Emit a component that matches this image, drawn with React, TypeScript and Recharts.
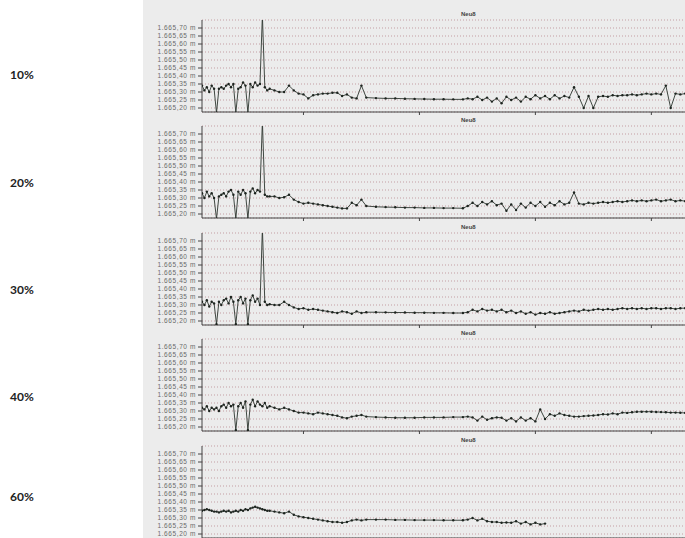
import { CartesianGrid, Line, LineChart, XAxis, YAxis } from "recharts";

// hours since start of record
const times = [
  0, 0.5, 1, 1.5, 2, 2.5, 3, 3.5, 4, 4.5, 5, 5.5, 6, 6.5, 7, 7.5, 8, 8.5, 9, 9.5, 10, 10.5, 11, 11.5, 12, 12.5, 13, 13.5, 14,
  15, 16, 17, 18, 19, 20, 21, 22, 23, 24, 25, 26, 27, 28, 29, 30, 31, 32, 33, 34, 36, 38, 40, 42, 44, 46, 48, 50, 52, 54, 55,
  56, 57, 58, 59, 60, 61, 62, 63, 64, 65, 66, 67, 68, 69, 70, 71, 72, 73, 74, 75, 76, 77, 78, 79, 80,
  81, 82, 83, 84, 85, 86, 87, 88, 89, 90, 91, 92, 93, 94, 95, 96, 97, 98, 99, 100,
];

// water level (m) for each fill level
const level10 = [
  1665.34, 1665.31, 1665.33, 1665.3, 1665.34, 1665.32, 1665.17, 1665.32, 1665.33, 1665.32, 1665.34, 1665.35, 1665.33, 1665.35, 1665.17,
  1665.32, 1665.33, 1665.36, 1665.34, 1665.17, 1665.35, 1665.33, 1665.36, 1665.34, 1665.35, 1665.78, 1665.33, 1665.31, 1665.32,
  1665.31, 1665.3, 1665.3, 1665.34, 1665.31, 1665.29, 1665.285, 1665.26, 1665.28, 1665.285, 1665.29, 1665.29, 1665.295, 1665.295, 1665.275,
  1665.285, 1665.265, 1665.26, 1665.34, 1665.265, 1665.262, 1665.26, 1665.26, 1665.258, 1665.257, 1665.256, 1665.255, 1665.255, 1665.254, 1665.254, 1665.26,
  1665.255, 1665.27, 1665.25, 1665.265, 1665.24, 1665.26, 1665.23, 1665.27, 1665.25, 1665.265, 1665.24, 1665.27, 1665.255, 1665.28, 1665.26,
  1665.275, 1665.255, 1665.28, 1665.26, 1665.275, 1665.265, 1665.33, 1665.27, 1665.2, 1665.275, 1665.2, 1665.27, 1665.275, 1665.27, 1665.28,
  1665.275, 1665.28, 1665.28, 1665.285, 1665.28, 1665.285, 1665.29, 1665.285, 1665.29, 1665.285, 1665.34, 1665.2, 1665.29, 1665.285, 1665.29,
];

const level20 = [
  1665.33, 1665.3, 1665.34, 1665.31, 1665.33, 1665.3, 1665.17, 1665.31, 1665.32, 1665.33, 1665.31, 1665.34, 1665.35, 1665.32, 1665.17,
  1665.34, 1665.32, 1665.35, 1665.33, 1665.17, 1665.34, 1665.36, 1665.33, 1665.35, 1665.34, 1665.78, 1665.32, 1665.31, 1665.31,
  1665.31, 1665.3, 1665.305, 1665.32, 1665.29, 1665.275, 1665.265, 1665.27, 1665.265, 1665.26, 1665.255, 1665.25, 1665.245, 1665.24, 1665.235,
  1665.235, 1665.27, 1665.255, 1665.29, 1665.25, 1665.245, 1665.243, 1665.242, 1665.24, 1665.24, 1665.238, 1665.238, 1665.237, 1665.237, 1665.236, 1665.25,
  1665.27, 1665.25, 1665.275, 1665.26, 1665.28, 1665.255, 1665.265, 1665.22, 1665.26, 1665.225, 1665.265, 1665.24, 1665.27, 1665.25, 1665.275,
  1665.245, 1665.27, 1665.255, 1665.28, 1665.26, 1665.27, 1665.335, 1665.265, 1665.26, 1665.27, 1665.265, 1665.27, 1665.275, 1665.27, 1665.275,
  1665.28, 1665.275, 1665.28, 1665.285, 1665.28, 1665.285, 1665.28, 1665.285, 1665.29, 1665.28, 1665.285, 1665.29, 1665.28, 1665.285, 1665.28,
];

const level30 = [
  1665.32, 1665.3, 1665.33, 1665.29, 1665.32, 1665.31, 1665.18, 1665.32, 1665.3, 1665.33, 1665.34, 1665.31, 1665.35, 1665.32, 1665.18,
  1665.33, 1665.35, 1665.31, 1665.34, 1665.18, 1665.33, 1665.36, 1665.32, 1665.34, 1665.3, 1665.78, 1665.32, 1665.3, 1665.305,
  1665.3, 1665.3, 1665.32, 1665.3, 1665.285, 1665.275, 1665.28, 1665.27, 1665.275, 1665.27, 1665.265, 1665.26, 1665.255, 1665.25, 1665.26,
  1665.255, 1665.245, 1665.26, 1665.25, 1665.255, 1665.255, 1665.254, 1665.253, 1665.253, 1665.252, 1665.252, 1665.251, 1665.251, 1665.25, 1665.25, 1665.255,
  1665.27, 1665.26, 1665.275, 1665.265, 1665.27, 1665.26, 1665.27, 1665.255, 1665.265, 1665.25, 1665.26, 1665.245, 1665.255, 1665.24, 1665.25,
  1665.245, 1665.255, 1665.245, 1665.25, 1665.255, 1665.26, 1665.265, 1665.26, 1665.27, 1665.265, 1665.27, 1665.275, 1665.27, 1665.275, 1665.27,
  1665.275, 1665.28, 1665.275, 1665.28, 1665.275, 1665.28, 1665.275, 1665.28, 1665.28, 1665.275, 1665.28, 1665.28, 1665.275, 1665.28, 1665.28,
];

const level40 = [
  1665.32, 1665.31, 1665.33, 1665.3, 1665.32, 1665.31, 1665.32, 1665.3, 1665.33, 1665.34, 1665.32, 1665.35, 1665.33, 1665.34, 1665.18,
  1665.33, 1665.35, 1665.32, 1665.36, 1665.18, 1665.34, 1665.37, 1665.33, 1665.36, 1665.34, 1665.33, 1665.35, 1665.32, 1665.33,
  1665.32, 1665.31, 1665.32, 1665.31, 1665.3, 1665.29, 1665.29, 1665.285, 1665.28, 1665.29, 1665.285, 1665.28, 1665.275, 1665.27, 1665.26,
  1665.255, 1665.265, 1665.27, 1665.275, 1665.265, 1665.262, 1665.26, 1665.258, 1665.258, 1665.258, 1665.26, 1665.26, 1665.26, 1665.262, 1665.262, 1665.265,
  1665.26, 1665.24, 1665.265, 1665.245, 1665.255, 1665.26, 1665.258, 1665.24, 1665.255, 1665.235, 1665.26, 1665.24, 1665.255, 1665.235, 1665.31,
  1665.25, 1665.28, 1665.27, 1665.285, 1665.275, 1665.27, 1665.265, 1665.265, 1665.268, 1665.27, 1665.272, 1665.275, 1665.28, 1665.278, 1665.285,
  1665.28, 1665.29, 1665.288, 1665.292, 1665.295, 1665.295, 1665.296, 1665.295, 1665.294, 1665.293, 1665.292, 1665.29, 1665.29, 1665.289, 1665.288,
];

const level60 = [
  1665.345, 1665.35, 1665.355, 1665.35, 1665.345, 1665.34, 1665.34, 1665.335, 1665.34, 1665.345, 1665.34, 1665.345, 1665.335, 1665.34, 1665.345,
  1665.34, 1665.35, 1665.345, 1665.355, 1665.35, 1665.36, 1665.365, 1665.37, 1665.365, 1665.36, 1665.355, 1665.35, 1665.345, 1665.345,
  1665.34, 1665.335, 1665.33, 1665.34, 1665.32, 1665.31, 1665.305, 1665.3, 1665.295, 1665.29, 1665.285, 1665.28, 1665.275, 1665.275, 1665.27,
  1665.275, 1665.285, 1665.29, 1665.285, 1665.29, 1665.29, 1665.29, 1665.288, 1665.288, 1665.287, 1665.287, 1665.287, 1665.286, 1665.286, 1665.286, 1665.29,
  1665.3, 1665.285, 1665.295, 1665.28, 1665.275, 1665.275, 1665.27, 1665.272, 1665.27, 1665.28, 1665.265, 1665.275, 1665.26, 1665.27, 1665.26,
  1665.265, null, null, null, null, null, null, null, null, null, null, null, null, null, null,
  null, null, null, null, null, null, null, null, null, null, null, null, null, null, null,
];

const fillLabels = ["10%", "20%", "30%", "40%", "60%"];
const panelTitle = "Neu8";
const levelTicks = [1665.2, 1665.25, 1665.3, 1665.35, 1665.4, 1665.45, 1665.5, 1665.55, 1665.6, 1665.65, 1665.7];
const hourTicks = [21, 45, 69, 93];

const allLevels = [level10, level20, level30, level40, level60];

// non-breaking space keeps "m" on the same line as the number
const fmtLevel = (v: number) => `1.665,${String(Math.round((v - 1665) * 100)).padStart(2, "0")}\u00A0m`;

function Panel({ values, top }: { values: (number | null)[]; top: number }) {
  const data = times.map((t, i) => ({ t, v: values[i] }));
  return (
    <div style={{ position: "absolute", left: 140, top, width: 550, height: 108 }}>
      <div
        style={{
          position: "absolute",
          left: 321,
          top: 3,
          fontSize: 6,
          fontWeight: 700,
          color: "#444",
          fontFamily: "'Liberation Sans', Arial, sans-serif",
        }}
      >
        {panelTitle}
      </div>
      <LineChart width={550} height={108} data={data} margin={{ top: 12, right: 0, bottom: 0, left: 0 }}>
        <CartesianGrid vertical={false} stroke="#c49ea3" strokeDasharray="1 2" />
        <XAxis
          dataKey="t"
          type="number"
          domain={[0, 101]}
          ticks={hourTicks}
          tickFormatter={() => ""}
          height={4}
          tickSize={3}
          stroke="#444"
          allowDataOverflow
        />
        <YAxis
          type="number"
          domain={[1665.175, 1665.75]}
          ticks={levelTicks}
          interval={0}
          tickFormatter={fmtLevel}
          width={62}
          tickSize={4}
          stroke="#444"
          tick={{
            fontSize: 6.5,
            fill: "#6a6a6a",
            letterSpacing: 0.6,
            fontFamily: "'Liberation Sans', Arial, sans-serif",
          }}
          allowDataOverflow
        />
        <Line
          dataKey="v"
          stroke="#2d352f"
          strokeWidth={0.9}
          dot={{ r: 1.2, fill: "#1d241f", stroke: "none" }}
          connectNulls={false}
          isAnimationActive={false}
        />
      </LineChart>
    </div>
  );
}

export default function App() {
  const tops = [8, 114, 221, 327, 434];
  const labelTops = [67, 175, 282, 389, 489];
  return (
    <div style={{ position: "relative", width: 685, height: 538, overflow: "hidden", background: "#fff" }}>
      <style>{"body{margin:0}"}</style>
      <div style={{ position: "absolute", left: 143, top: 0, width: 542, height: 538, background: "#ececec" }} />
      {fillLabels.map((lbl, i) => (
        <div
          key={lbl}
          style={{
            position: "absolute",
            left: 10,
            top: labelTops[i],
            fontSize: 12,
            fontWeight: 700,
            color: "#222",
            fontFamily: "Lato, 'Open Sans', sans-serif",
          }}
        >
          {lbl}
        </div>
      ))}
      {allLevels.map((vals, i) => (
        <Panel key={i} values={vals} top={tops[i]} />
      ))}
    </div>
  );
}
